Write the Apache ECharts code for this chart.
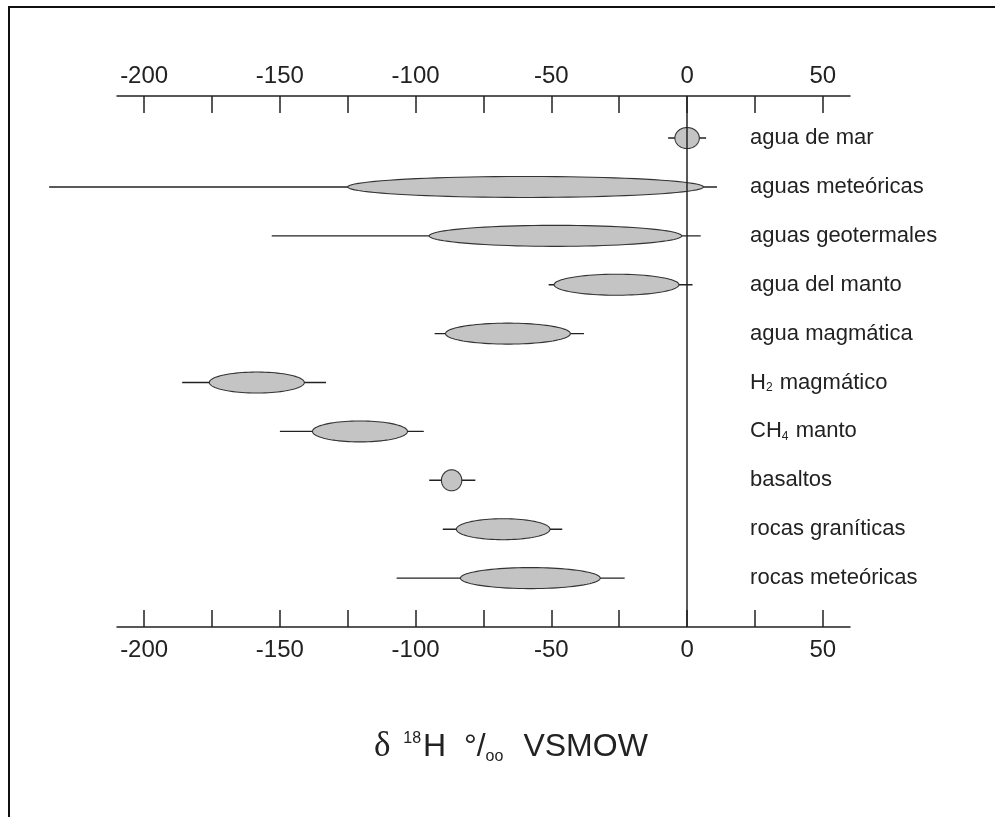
<!DOCTYPE html>
<html><head><meta charset="utf-8">
<script src="https://cdn.jsdelivr.net/npm/echarts@6/dist/echarts.min.js"></script>
<style>html,body{margin:0;padding:0;background:#fff}#c{width:995px;height:817px}</style>
</head><body><div id="c"></div>
<script>
// ---- data ----
const categories = ['agua de mar', 'aguas meteóricas', 'aguas geotermales', 'agua del manto', 'agua magmática',
  'H₂ magmático', 'CH₄ manto', 'basaltos', 'rocas graníticas', 'rocas meteóricas'];
const rangeMin = [-7, -235, -153, -51, -93, -186, -150, -95, -90, -107];
const rangeMax = [7, 11, 5, 2, -38, -133, -97, -78, -46, -23];
const coreMin = [-4.5, -125, -95, -49, -89, -176, -138, -90.5, -85, -83.5];
const coreMax = [4.5, 6, -2, -3, -43, -141, -103, -83, -50.5, -32];
const tickLabels = [-200, -150, -100, -50, 0, 50];
const tickMarks = [-200, -175, -150, -125, -100, -75, -50, -25, 0, 25, 50];

// ---- styling constants ----
const LABEL_X = 23.2;
const ELL_RY = 10.5;
const FONT = 'Liberation Sans, Arial, sans-serif';

const chart = echarts.init(document.getElementById('c'), null, {renderer: 'canvas'});

function richName(s) {
  return s.replace(/₂/g, '{s|2}').replace(/₄/g, '{s|4}')
    .split(/(\{s\|\d\})/).map(p => p.startsWith('{s|') ? p : (p ? '{a|' + p + '}' : '')).join('');
}

const axisCommon = (pos, margin) => ({
  type: 'value', position: pos, min: -210, max: 60,
  splitLine: {show: false},
  axisLine: {show: true, onZero: false, lineStyle: {color: '#222', width: 1.5}},
  axisTick: {show: true, inside: true, length: 17, customValues: tickMarks, lineStyle: {color: '#222', width: 1.5}},
  axisLabel: {show: true, customValues: tickLabels, margin: margin, color: '#222', fontSize: 24, fontFamily: FONT}
});

const option = {
  backgroundColor: '#fff',
  animation: false,
  grid: {left: 117, right: 145, top: 96, bottom: 190, containLabel: false},
  xAxis: [axisCommon('top', 8), axisCommon('bottom', 11)],
  yAxis: {type: 'value', inverse: true, min: -0.86, max: 10, show: false},
  title: {
    text: '{d|δ }{sup|18}{m|H  °/}{sub|oo}{v|VSMOW}',
    left: 374, top: 725, padding: 0,
    textStyle: {
      fontWeight: 'normal',
      rich: {
        d: {fontSize: 35, fontWeight: 'normal', fontFamily: 'Liberation Serif, serif', color: '#222', lineHeight: 44},
        m: {fontSize: 32, fontWeight: 'normal', fontFamily: FONT, color: '#222', lineHeight: 44},
        v: {fontSize: 32, fontWeight: 'normal', fontFamily: FONT, color: '#222', lineHeight: 44, padding: [0, 0, 0, 20]},
        sup: {fontSize: 16, fontWeight: 'normal', fontFamily: FONT, color: '#222', lineHeight: 16, verticalAlign: 'top', padding: [6, 2, 0, 4]},
        sub: {fontSize: 16, fontWeight: 'normal', fontFamily: FONT, color: '#222', lineHeight: 16, verticalAlign: 'bottom', padding: [0, 0, 4, 0]}
      }
    }
  },
  graphic: [
    {type: 'line', shape: {x1: 8, y1: 7, x2: 995, y2: 7}, style: {stroke: '#111', lineWidth: 2}},
    {type: 'line', shape: {x1: 9, y1: 7, x2: 9, y2: 817}, style: {stroke: '#111', lineWidth: 2}}
  ],
  series: [
    {
      type: 'custom', xAxisIndex: 0, clip: false, z: 2,
      data: categories.map((c, i) => [i, rangeMin[i], rangeMax[i], coreMin[i], coreMax[i]]),
      encode: {x: [1, 2, 3, 4], y: 0},
      renderItem: function (params, api) {
        const i = api.value(0);
        const p1 = api.coord([api.value(1), i]);
        const p2 = api.coord([api.value(2), i]);
        const e1 = api.coord([api.value(3), i]);
        const e2 = api.coord([api.value(4), i]);
        const cx = (e1[0] + e2[0]) / 2, cy = e1[1];
        const rx = (e2[0] - e1[0]) / 2;
        const pts = [];
        for (let k = 0; k < 90; k++) {
          const t = k / 90 * 2 * Math.PI;
          pts.push([cx + rx * Math.cos(t), cy + ELL_RY * Math.sin(t)]);
        }
        return {type: 'group', children: [
          {type: 'line', shape: {x1: p1[0], y1: p1[1], x2: p2[0], y2: p2[1]}, style: {stroke: '#222', lineWidth: 1.4}},
          {type: 'polygon', shape: {points: pts}, style: {fill: '#c4c4c4', stroke: '#333', lineWidth: 1.1}}
        ]};
      },
      markLine: {
        silent: true, symbol: 'none', z: 5,
        label: {show: false},
        lineStyle: {color: '#222', width: 1.5, type: 'solid'},
        data: [{xAxis: 0}]
      }
    },
    {
      type: 'custom', xAxisIndex: 0, clip: false, z: 3,
      data: categories.map((c, i) => [i, LABEL_X]),
      encode: {x: 1, y: 0},
      renderItem: function (params, api) {
        const i = api.value(0);
        const p = api.coord([api.value(1), i]);
        return {
          type: 'text', x: p[0], y: p[1],
          style: {
            text: richName(categories[i]),
            align: 'left', verticalAlign: 'middle',
            rich: {
              a: {fontSize: 22, fontFamily: FONT, fill: '#222', lineHeight: 26},
              s: {fontSize: 12, fontFamily: FONT, fill: '#222', lineHeight: 12, verticalAlign: 'bottom', padding: [0, 1, 2, 0]}
            }
          }
        };
      }
    }
  ]
};
chart.setOption(option);
</script>
</body></html>
